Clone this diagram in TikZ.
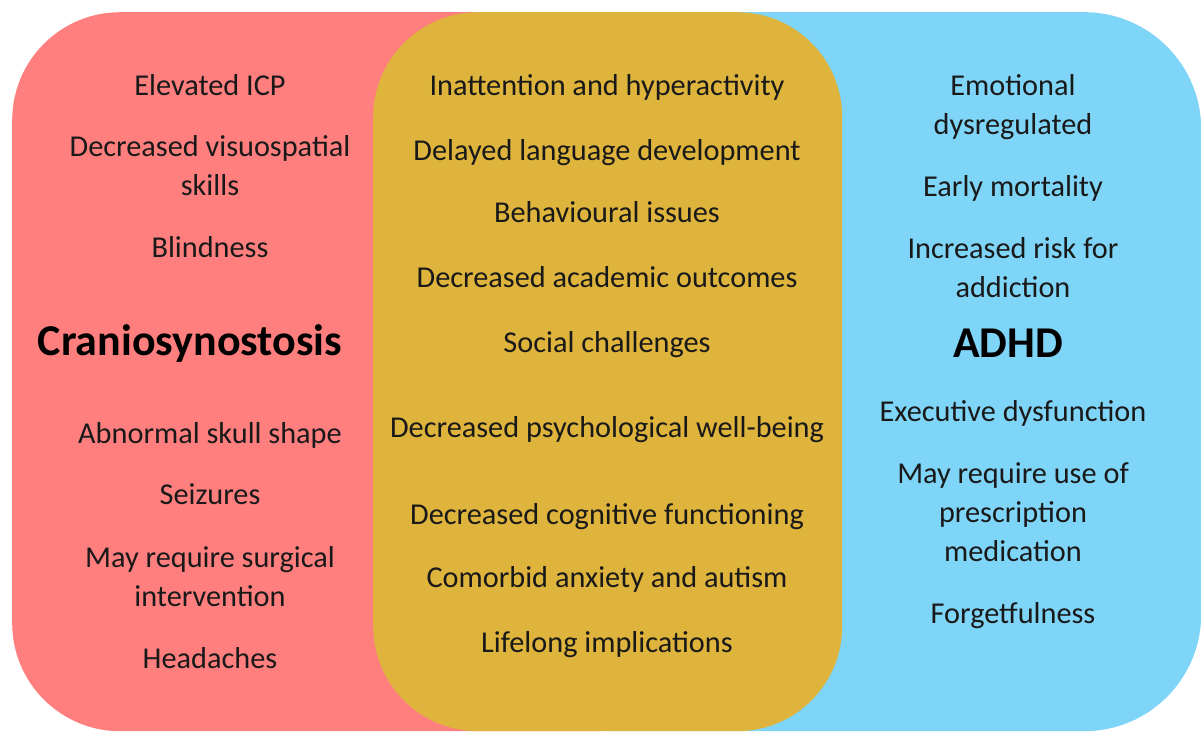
\documentclass[tikz,border=0pt]{standalone}
\usepackage{fontspec}
\setmainfont{Carlito}
\usepackage{tikz}
\definecolor{cranored}{RGB}{255,127,127}
\definecolor{adhdblue}{RGB}{127,213,247}
\definecolor{sharedgold}{RGB}{222,180,60}
\tikzstyle{area} = [rectangle, inner sep=0pt, anchor=north west, minimum height=719pt]
\tikzstyle{item} = [anchor=base, align=center, inner sep=0pt, text=black!90, font=\fontsize{30.3}{39}\selectfont]
\tikzstyle{heading} = [item, text=black, font=\bfseries\fontsize{44}{50}\selectfont]

\begin{document}
\begin{tikzpicture}[x=1pt, y=-1pt]
\useasboundingbox (0,0) rectangle (1201,731);

% Aree colorate
\node (cranoarea) [area, fill=cranored, rounded corners=108pt, minimum width=690pt] at (12,12) {};
\node (adhdarea) [area, fill=adhdblue, rounded corners=117pt, minimum width=701pt] at (500,12) {};
\node (sharedarea) [area, fill=sharedgold, rounded corners=105pt, minimum width=469pt] at (373,12) {};

% Craniosynostosis (base = ultima riga)
\node (icp) [item] at (210,95) {Elevated ICP};
\node (visuo) [item] at (210,195) {Decreased visuospatial\\skills};
\node (blind) [item] at (210,257) {Blindness};
\node (crano) [heading] at (190,355) {Craniosynostosis};
\node (skull) [item] at (210,443) {Abnormal skull shape};
\node (seiz) [item] at (210,504) {Seizures};
\node (surg) [item] at (210,606) {May require surgical\\intervention};
\node (head) [item] at (210,668) {Headaches};

% In comune
\node (inatt) [item] at (607,95) {Inattention and hyperactivity};
\node (lang) [item] at (607,160) {Delayed language development};
\node (behav) [item] at (607,222) {Behavioural issues};
\node (acad) [item] at (607,287) {Decreased academic outcomes};
\node (social) [item] at (607,352) {Social challenges};
\node (psych) [item] at (607,437) {Decreased psychological well-being};
\node (cogn) [item] at (607,524) {Decreased cognitive functioning};
\node (comorb) [item] at (607,587) {Comorbid anxiety and autism};
\node (life) [item] at (607,652) {Lifelong implications};

% ADHD
\node (emot) [item] at (1013,134) {Emotional\\dysregulated};
\node (mort) [item] at (1013,196) {Early mortality};
\node (addict) [item] at (1013,297) {Increased risk for\\addiction};
\node (adhd) [heading] at (1008,357) {ADHD};
\node (exec) [item] at (1013,421) {Executive dysfunction};
\node (presc) [item] at (1013,561) {May require use of\\prescription\\medication};
\node (forget) [item] at (1013,623) {Forgetfulness};
\end{tikzpicture}
\end{document}
